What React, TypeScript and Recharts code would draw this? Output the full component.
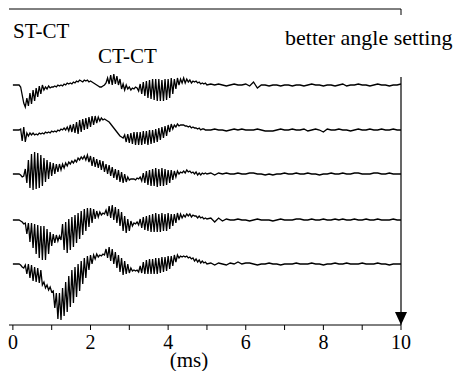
import React from 'react';
import { LineChart, Line, XAxis, YAxis, ReferenceLine } from 'recharts';

// Sampling grid: 0-5 ms every 0.04 ms, then 5.1-10 ms every 0.1 ms
const EARLY_TIMES = Array.from({ length: 126 }, (_, i) => +(i * 0.04).toFixed(2));
const LATE_TIMES = Array.from({ length: 50 }, (_, j) => +(5.1 + j * 0.1).toFixed(1));
const TIMES = [...EARLY_TIMES, ...LATE_TIMES];

const X_TICKS = [0, 1, 2, 3, 4, 5, 6, 7, 8, 9, 10];

// vertical offset of each trace (top trace first)
const OFFSETS = [240, 195, 151, 105, 61];

// amplitudes, rows of 0.4 ms up to 5 ms, then rows of 1 ms
const TRACE_1 = [
  0, 0, 0, 0, 0, -2, -10, -18, -22, -13,
  -21, -8, -19, -5, -16, -3, -12, -1, -9, 0,
  -5, -2, -4, -1, -3, -2, -2, -1, -2, 0,
  -1, 0, -1, 1, 0, 2, 1, 2, 1, 3,
  2, 4, 3, 5, 4, 3, 5, 4, 5, 3,
  4, 3, 2, 1, 0, -1, -2, -2, -1, 0,
  2, 7, 1, 10, 0, 11, 1, 9, 0, 6,
  -4, 1, -5, 0, -4, -2, -5, -3, -4, -2,
  -3, -6, 1, -9, 3, -11, 4, -13, 5, -14,
  6, -15, 6, -16, 6, -16, 5, -16, 6, -15,
  6, -13, 7, -9, 6, -4, 7, 0, 6, 2,
  7, 2, 6, 3, 5, 2, 4, 3, 4, 2,
  3, 1, 2, 1, 2, 0,
  1, 0, 1, 0, -1, 0, 1, 0, 0, 1,
  -1, 3, -3, 0, 0, -1, 0, 0, -1, 0,
  0, -1, 0, 0, -1, 0, 1, 0, 0, -1,
  0, 0, -1, 0, 1, -1, 0, 0, 1, 0,
  0, -1, 0, 1, 0, 0, -1, 0, 0, 1,
];

const TRACE_2 = [
  0, 0, 0, 0, 0, 1, -11, 3, -12, -3,
  -6, -3, -5, -3, -5, -4, -5, -3, -4, -3,
  -4, -2, -3, -2, -3, -1, -2, -1, -2, 0,
  -1, 1, 0, 2, 0, 3, -1, 5, -2, 6,
  -3, 8, -4, 10, -2, 11, 0, 12, 1, 13,
  3, 14, 5, 14, 7, 13, 9, 12, 10, 11,
  10, 9, 8, 6, 4, 2, 0, -2, -4, -6,
  -7, -8, -5, -12, -4, -13, -3, -14, -2, -15,
  -2, -15, -2, -15, -1, -14, -1, -15, 0, -14,
  0, -13, 1, -12, 2, -10, 3, -8, 4, -6,
  5, -2, 6, 1, 5, 3, 6, 4, 5, 5,
  5, 4, 4, 3, 4, 2, 3, 2, 2, 1,
  2, 0, 1, 1, 0, 0,
  0, 1, 0, 0, -1, 0, 1, 0, 1, 0,
  0, 0, 1, 0, -1, -1, -1, 0, 1, 0,
  0, 1, 0, 0, 1, -1, 0, 1, 0, -2,
  1, 0, 0, 1, 0, 0, -1, 0, 1, 0,
  0, 1, 0, 0, 1, 0, 0, 1, 0, 0,
];

const TRACE_3 = [
  0, 0, 0, 0, 0, -1, -3, -2, 5, -9,
  14, -14, 20, -16, 22, -15, 21, -14, 19, -12,
  16, -8, 14, -5, 12, -2, 11, 0, 10, 2,
  10, 4, 10, 6, 11, 8, 12, 10, 13, 11,
  14, 12, 16, 14, 17, 15, 18, 14, 19, 12,
  18, 8, 17, 7, 15, 6, 14, 4, 13, 2,
  10, 0, 9, -2, 7, -4, 5, -6, 4, -8,
  2, -9, 0, -8, -3, -6, -5, -5, -5, -6,
  -4, -5, -3, -7, 1, -9, 3, -11, 4, -12,
  5, -12, 6, -13, 5, -12, 6, -12, 5, -11,
  4, -9, 4, -6, 3, -3, 3, 0, 2, 1,
  3, 1, 4, 2, 3, 1, 2, 0, 2, -1,
  1, -1, 1, 0, 1, 0,
  1, -1, 1, 0, 1, 0, 0, 1, 0, 0,
  1, 1, 0, 0, -1, 0, -1, 0, 0, 1,
  0, 0, 1, 0, 0, 1, 0, 0, -1, 0,
  0, 1, 0, 0, 1, 0, 0, 1, 1, 0,
  0, 0, 1, 1, 0, 0, 1, 0, 0, 0,
];

const TRACE_4 = [
  0, 0, 0, 0, 0, -1, -2, -4, -3, -14,
  -3, -22, -3, -28, -4, -34, -5, -38, -6, -40,
  -6, -40, -9, -34, -12, -26, -14, -23, -15, -21,
  -16, -20, -4, -30, -2, -33, 1, -30, 3, -27,
  5, -23, 7, -19, 9, -15, 11, -11, 12, -7,
  12, -3, 11, 1, 9, 3, 8, 5, 7, 6,
  10, 4, 14, 2, 15, 0, 13, -3, 11, -6,
  8, -11, 4, -13, 1, -11, -1, -6, -3, -4,
  -2, -5, 1, -8, 3, -10, 4, -11, 5, -12,
  6, -12, 7, -12, 6, -12, 7, -11, 6, -11,
  7, -9, 6, -6, 6, -3, 7, 0, 6, 2,
  5, 3, 6, 4, 6, 3, 5, 4, 4, 2,
  4, 2, 3, 1, 2, 1,
  2, -2, 2, -1, 1, 0, 0, 1, 0, 0,
  -1, 0, 1, 0, 0, 0, -1, 0, 1, 0,
  0, 0, 1, 1, 0, 0, 1, 0, 0, 1,
  0, 0, 1, 0, 1, 0, 0, 1, 0, 0,
  1, 0, 0, 1, 0, 0, 0, 1, 0, 0,
];

const TRACE_5 = [
  0, 0, 0, 0, 0, -1, -3, -4, -1, -10,
  0, -14, -1, -17, -3, -18, -4, -19, -6, -21,
  -18, -24, -21, -26, -23, -28, -27, -44, -29, -55,
  -29, -56, -24, -52, -18, -48, -12, -43, -6, -39,
  -3, -33, 0, -27, 3, -20, 6, -14, 8, -6,
  9, 0, 9, 5, 10, 7, 9, 8, 10, 9,
  15, 6, 17, 3, 15, 0, 12, -4, 9, -8,
  6, -11, 3, -10, 0, -9, -4, -7, -6, -7,
  -6, -8, -2, -9, 2, -10, 4, -10, 5, -10,
  5, -10, 6, -10, 6, -9, 7, -8, 7, -7,
  8, -5, 8, -2, 9, 2, 9, 6, 8, 7,
  8, 7, 8, 6, 7, 5, 6, 3, 5, 2,
  4, 1, 3, 1, 2, 0,
  1, -1, 1, 0, -1, 1, 0, 2, 0, 1,
  1, 0, -1, 0, 0, 1, 0, 0, -1, 0,
  0, 0, 1, 0, 0, 0, 1, 0, 0, -1,
  0, 0, 1, 0, 0, 1, 0, 0, 0, 1,
  0, 0, 0, 1, 0, 0, -1, 0, 0, 0,
];

const TRACES = [TRACE_1, TRACE_2, TRACE_3, TRACE_4, TRACE_5];
const KEYS = ['s1', 's2', 's3', 's4', 's5'];

const SERIF = "'Liberation Serif', 'DejaVu Serif', 'Times New Roman', Times, serif";

const data = TIMES.map((t, i) => {
  const row: Record<string, number> = { t };
  TRACES.forEach((tr, k) => {
    row[KEYS[k]] = OFFSETS[k] + tr[i];
  });
  return row;
});

// vertical line on the right ending in a filled arrow head
const ArrowLine = (props: any) => {
  const { x1, y1, x2, y2 } = props;
  return (
    <g>
      <line x1={x1} y1={y1} x2={x2} y2={y2} stroke="#000" strokeWidth={1.2} />
      <polygon points={`${x2 - 6},${y2 - 13} ${x2 + 6},${y2 - 13} ${x2},${y2}`} fill="#000" />
    </g>
  );
};

export default function App() {
  return (
    <div style={{ position: 'absolute', left: 0, top: 0, width: 456, height: 371, background: '#fff' }}>
      <LineChart width={456} height={371} data={data} margin={{ top: 9, right: 55, bottom: 0, left: 9 }}>
        <XAxis
          dataKey="t"
          type="number"
          domain={[-0.1, 10]}
          ticks={X_TICKS}
          interval={0}
          height={46}
          tickFormatter={(v: number) => (v % 2 === 0 ? String(v) : '')}
          tickSize={5}
          tickMargin={5}
          tick={{ fill: '#000', fontSize: 20, style: { fontFamily: SERIF } }}
          axisLine={{ stroke: '#000' }}
          tickLine={{ stroke: '#000' }}
          allowDataOverflow
        />
        <YAxis type="number" domain={[0, 316]} width={0} tick={false} tickLine={false} axisLine={{ stroke: '#000' }} />
        <ReferenceLine segment={[{ x: -0.1, y: 316 }, { x: 10, y: 316 }]} stroke="#000" ifOverflow="visible" />
        <ReferenceLine segment={[{ x: 10, y: 316 }, { x: 10, y: 310 }]} stroke="#000" ifOverflow="visible" />
        <ReferenceLine segment={[{ x: 10, y: 248 }, { x: 10, y: 0 }]} ifOverflow="visible" shape={ArrowLine} />
        {KEYS.map((k) => (
          <Line
            key={k}
            dataKey={k}
            type="linear"
            stroke="#000"
            strokeWidth={1.3}
            dot={false}
            activeDot={false}
            isAnimationActive={false}
          />
        ))}
      </LineChart>
      <svg width={456} height={371} style={{ position: 'absolute', left: 0, top: 0, pointerEvents: 'none' }}>
        <g style={{ fontFamily: SERIF }} fill="#000">
          <text x={13} y={38} fontSize={21}>ST-CT</text>
          <text x={98} y={63} fontSize={21}>CT-CT</text>
          <text x={285} y={45} fontSize={22}>better angle setting</text>
          <text x={189} y={367} fontSize={21} textAnchor="middle">(ms)</text>
        </g>
      </svg>
    </div>
  );
}
